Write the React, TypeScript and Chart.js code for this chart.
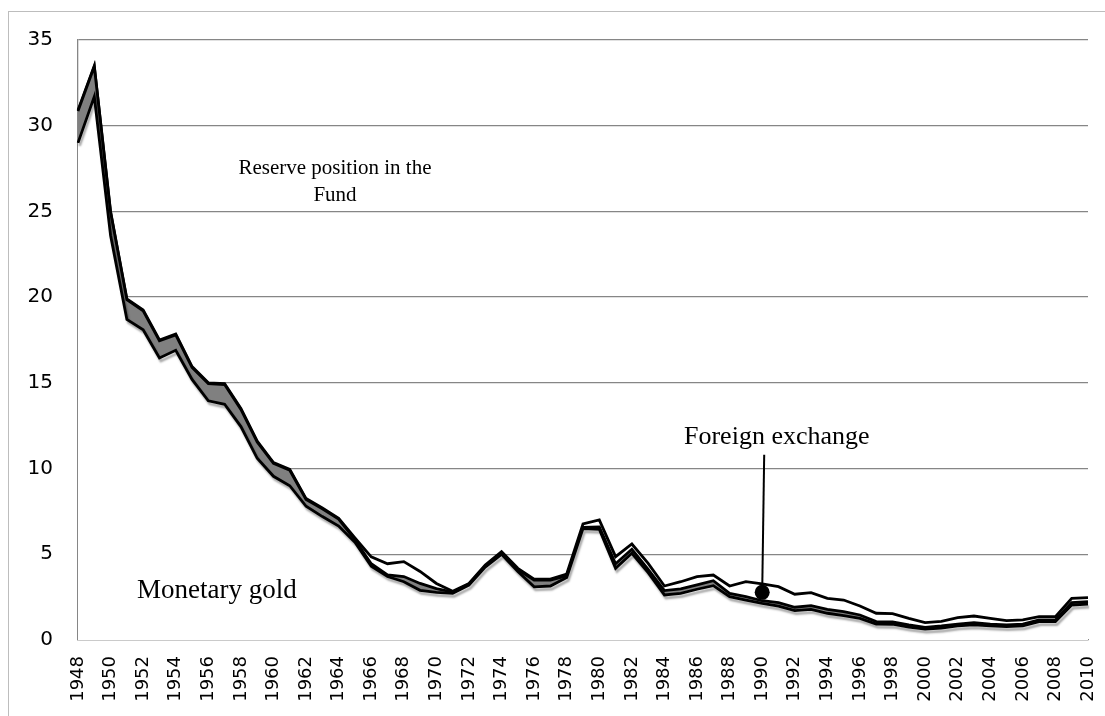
import React, { useEffect, useRef } from "react";
import { Chart, registerables } from "chart.js";

Chart.register(...registerables);

const years = [
  1948, 1949, 1950, 1951, 1952, 1953, 1954, 1955, 1956, 1957, 1958, 1959, 1960,
  1961, 1962, 1963, 1964, 1965, 1966, 1967, 1968, 1969, 1970, 1971, 1972, 1973,
  1974, 1975, 1976, 1977, 1978, 1979, 1980, 1981, 1982, 1983, 1984, 1985, 1986,
  1987, 1988, 1989, 1990, 1991, 1992, 1993, 1994, 1995, 1996, 1997, 1998, 1999,
  2000, 2001, 2002, 2003, 2004, 2005, 2006, 2007, 2008, 2009, 2010,
];

// Monetary gold (bottom layer)
const monetaryGold = [
  29.0, 31.7, 23.6, 18.7, 18.1, 16.45, 16.9, 15.2, 13.95, 13.75, 12.45, 10.6, 9.55,
  9.0, 7.8, 7.2, 6.65, 5.7, 4.3, 3.7, 3.4, 2.9, 2.78, 2.72, 3.2, 4.25,
  5.0, 4.0, 3.1, 3.15, 3.65, 6.5, 6.46, 4.18, 5.06, 3.93, 2.63, 2.72, 2.96,
  3.17, 2.53, 2.33, 2.14, 1.98, 1.71, 1.79, 1.56, 1.42, 1.26, 0.93, 0.92, 0.75,
  0.63, 0.69, 0.82, 0.88, 0.82, 0.78, 0.82, 1.07, 1.07, 2.04, 2.1,
];

// Reserve position in the Fund (grey layer)
const reservePosition = [
  1.85, 1.75, 1.35, 1.15, 1.1, 1.0, 0.9, 0.7, 1.0, 1.15, 1.0, 0.95, 0.75,
  0.9, 0.4, 0.45, 0.4, 0.15, 0.15, 0.1, 0.3, 0.4, 0.22, 0.08, 0.05, 0.07,
  0.1, 0.1, 0.4, 0.35, 0.1, 0.07, 0.14, 0.27, 0.23, 0.19, 0.25, 0.26, 0.25,
  0.29, 0.19, 0.2, 0.15, 0.2, 0.2, 0.21, 0.23, 0.23, 0.2, 0.14, 0.13, 0.13,
  0.11, 0.13, 0.11, 0.13, 0.11, 0.1, 0.11, 0.1, 0.1, 0.14, 0.14,
];

// Foreign exchange (top layer)
const foreignExchange = [
  0.05, 0.05, 0.05, 0.05, 0.05, 0.05, 0.05, 0.05, 0.05, 0.05, 0.05, 0.05, 0.05,
  0.05, 0.05, 0.05, 0.05, 0.1, 0.4, 0.65, 0.87, 0.7, 0.3, 0.05, 0.05, 0.05,
  0.05, 0.08, 0.05, 0.05, 0.1, 0.2, 0.4, 0.41, 0.31, 0.35, 0.27, 0.42, 0.49,
  0.33, 0.43, 0.87, 0.98, 0.93, 0.76, 0.76, 0.64, 0.68, 0.52, 0.49, 0.49, 0.38,
  0.27, 0.27, 0.37, 0.39, 0.33, 0.25, 0.24, 0.19, 0.19, 0.25, 0.23,
];

const pointerYear = 1990;
const pointerValue = 2.78;
const pointerTopValue = 10.8;

const GRID = "#868686";

export default function App() {
  const ref = useRef<HTMLCanvasElement | null>(null);

  useEffect(() => {
    if (!ref.current) return;

    const shadowPlugin = {
      id: "lineShadow",
      beforeDatasetDraw(chart: any, args: any) {
        if (args.index !== 0) return;
        const c = chart.ctx;
        c.shadowColor = "rgba(0,0,0,0.35)";
        c.shadowOffsetX = 1.5;
        c.shadowOffsetY = 3;
        c.shadowBlur = 2;
      },
      afterDatasetDraw(chart: any) {
        const c = chart.ctx;
        c.shadowColor = "rgba(0,0,0,0)";
        c.shadowOffsetX = 0;
        c.shadowOffsetY = 0;
        c.shadowBlur = 0;
      },
    };

    const annotations = {
      id: "annotations",
      afterDraw(chart: any) {
        const c = chart.ctx;
        const xs = chart.scales.x;
        const ys = chart.scales.y;
        c.save();
        c.fillStyle = "#000";
        c.textBaseline = "middle";
        c.textAlign = "center";
        c.font = '21px "Liberation Serif"';
        c.fillText("Reserve position in the", 335, 168);
        c.fillText("Fund", 335, 195);
        c.textAlign = "left";
        c.font = '27px "Liberation Serif"';
        c.fillText("Monetary gold", 137, 591);
        c.font = '26px "Liberation Serif"';
        c.fillText("Foreign exchange", 684, 437);

        const px = xs.getPixelForValue(years.indexOf(pointerYear));
        const py = ys.getPixelForValue(pointerValue);
        const pt = ys.getPixelForValue(pointerTopValue);
        c.strokeStyle = "#000";
        c.lineWidth = 2;
        c.beginPath();
        c.moveTo(px + 2, pt);
        c.lineTo(px, py);
        c.stroke();
        c.beginPath();
        c.arc(px, py, 7.5, 0, Math.PI * 2);
        c.fill();
        c.restore();
      },
    };

    const lineCommon = {
      borderColor: "#000",
      borderWidth: 2.8,
      pointRadius: 0,
      tension: 0,
      borderJoinStyle: "miter" as const,
    };

    const chart = new Chart(ref.current, {
      type: "line",
      data: {
        labels: years.map(String),
        datasets: [
          {
            label: "Monetary gold",
            data: monetaryGold,
            backgroundColor: "#ffffff",
            fill: "origin",
            ...lineCommon,
          },
          {
            label: "Reserve position in the Fund",
            data: reservePosition,
            backgroundColor: "#808080",
            fill: "-1",
            ...lineCommon,
          },
          {
            label: "Foreign exchange",
            data: foreignExchange,
            backgroundColor: "#ffffff",
            fill: "-1",
            ...lineCommon,
          },
        ],
      },
      options: {
        animation: false,
        responsive: false,
        devicePixelRatio: 1,
        layout: { padding: { left: 8, top: 40, right: 0, bottom: 0 } },
        plugins: {
          legend: { display: false },
          tooltip: { enabled: false },
        },
        scales: {
          x: {
            type: "category",
            offset: false,
            grid: { display: false, drawTicks: false },
            border: { display: true, color: GRID, width: 1.3 },
            ticks: {
              autoSkip: false,
              minRotation: 90,
              maxRotation: 90,
              padding: 16,
              color: "#000",
              font: { family: '"DejaVu Sans"', size: 18 },
              callback: (_v: any, i: number) =>
                years[i] % 2 === 0 ? String(years[i]) : "",
            },
            afterFit: (s: any) => {
              s.height = 76;
              s.paddingRight = 17;
              s.paddingLeft = 0;
            },
          },
          y: {
            stacked: true,
            min: 0,
            max: 35,
            grid: { color: GRID, lineWidth: 1.3, drawTicks: false },
            border: { display: true, color: GRID, width: 1.3 },
            ticks: {
              stepSize: 5,
              padding: 25,
              color: "#000",
              font: { family: '"DejaVu Sans"', size: 20 },
            },
            afterFit: (s: any) => {
              s.width = 70;
            },
          },
        },
      },
      plugins: [shadowPlugin, annotations],
    });

    return () => chart.destroy();
  }, []);

  return (
    <div
      style={{
        position: "fixed",
        left: 0,
        top: 0,
        width: 1105,
        height: 716,
        background: "#fff",
        overflow: "hidden",
      }}
    >
      <div
        style={{
          position: "absolute",
          left: 8,
          top: 11,
          width: 1200,
          height: 800,
          borderTop: "1px solid #bdbdbd",
          borderLeft: "1px solid #bdbdbd",
        }}
      />
      <canvas
        ref={ref}
        width={1105}
        height={716}
        style={{ position: "absolute", left: 0, top: 0, width: 1105, height: 716 }}
      />
    </div>
  );
}
